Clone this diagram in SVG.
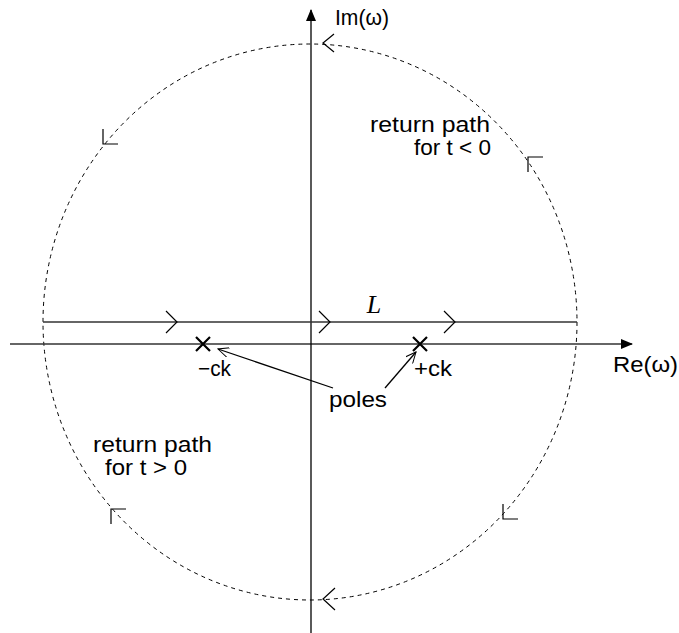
<svg xmlns="http://www.w3.org/2000/svg" width="679" height="633" viewBox="0 0 679 633">
<style>
text{font-family:"Liberation Sans",Arial,sans-serif;font-size:22px;fill:#000}
.ax{stroke:#000;stroke-width:1.3;fill:none}
.ln{stroke:#333;stroke-width:1.6;fill:none}
.ch{stroke:#000;stroke-width:1.2;fill:none}
.dash{stroke:#000;stroke-width:1;fill:none;stroke-dasharray:4 4}
.pole{stroke:#000;stroke-width:2.2;fill:none}
</style>
<defs>
<marker id="fill" markerWidth="12" markerHeight="10" refX="11" refY="5" orient="auto" markerUnits="userSpaceOnUse">
<path d="M0,0 L12,5 L0,10 Z" fill="#000"/>
</marker>
<marker id="open" markerWidth="12" markerHeight="10" refX="11" refY="5" orient="auto" markerUnits="userSpaceOnUse">
<path d="M0,0 L11,5 L0,10" fill="none" stroke="#000" stroke-width="1"/>
</marker>
</defs>
<g id="connectors">
<ellipse id="return-circle" class="dash" cx="310" cy="322" rx="267" ry="278"/>
<line id="re-axis" class="ln" x1="10" y1="344" x2="632" y2="344" marker-end="url(#fill)"/>
<line id="im-axis" class="ax" x1="311" y1="633" x2="311" y2="10" marker-end="url(#fill)"/>
<line id="contour-L" class="ln" x1="43" y1="322" x2="577" y2="322"/>
<path class="ch" d="M166,311 L177,322 L166,333"/>
<path class="ch" d="M319,311 L330,322 L319,333"/>
<path class="ch" d="M444,311 L455,322 L444,333"/>
<path class="ch" d="M334,34 L323,43 L334,52"/>
<path class="ch" d="M335,588 L323,599 L335,610"/>
<path class="ch" d="M103,129 L103,144 L118,144"/>
<path class="ch" d="M543,157 L528,157 L528,172"/>
<path class="ch" d="M126,509 L111,509 L111,524"/>
<path class="ch" d="M503,504 L503,519 L518,519"/>
<line class="ax" x1="333" y1="388" x2="218" y2="349" stroke-width="1" marker-end="url(#open)"/>
<line class="ax" x1="385" y1="388" x2="416" y2="352" stroke-width="1" marker-end="url(#open)"/>
</g>
<g id="pole-minus">
<path class="pole" d="M196,337 L210,351 M210,337 L196,351"/>
<text x="198" y="376" textLength="33" lengthAdjust="spacingAndGlyphs">−ck</text>
</g>
<g id="pole-plus">
<path class="pole" d="M413,337 L427,351 M427,337 L413,351"/>
<text x="414" y="376" textLength="38" lengthAdjust="spacingAndGlyphs">+ck</text>
</g>
<g id="label-poles"><text x="329" y="407" textLength="58" lengthAdjust="spacingAndGlyphs">poles</text></g>
<g id="label-L"><text x="374" y="313" text-anchor="middle" style="font-family:'Liberation Serif','Times New Roman',serif;font-style:italic;font-size:26px">L</text></g>
<g id="label-im"><text x="335" y="25" textLength="54" lengthAdjust="spacingAndGlyphs">Im(ω)</text></g>
<g id="label-re"><text x="613" y="372" textLength="65" lengthAdjust="spacingAndGlyphs">Re(ω)</text></g>
<g id="label-return-upper">
<text x="370" y="132" textLength="120" lengthAdjust="spacingAndGlyphs">return path</text>
<text x="414" y="155" textLength="77" lengthAdjust="spacingAndGlyphs">for t &lt; 0</text>
</g>
<g id="label-return-lower">
<text x="93" y="452" textLength="119" lengthAdjust="spacingAndGlyphs">return path</text>
<text x="105" y="475" textLength="82" lengthAdjust="spacingAndGlyphs">for t &gt; 0</text>
</g>
</svg>
